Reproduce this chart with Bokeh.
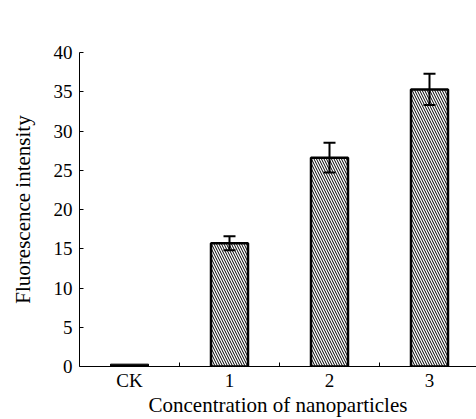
from bokeh.plotting import figure
from bokeh.models import ColumnDataSource, FixedTicker, Whisker, TeeHead
from bokeh.embed import file_html
from bokeh.resources import INLINE

categories = ["CK", "1", "2", "3"]
values = [0.3, 15.7, 26.6, 35.3]
errors = [0.0, 0.9, 1.9, 2.0]
y_ticks = [0, 5, 10, 15, 20, 25, 30, 35, 40]

xpos = [i + 0.5 for i in range(len(categories))]
upper = [v + e for v, e in zip(values, errors)]
lower = [v - e for v, e in zip(values, errors)]

p = figure(width=476, height=419, output_backend="svg", toolbar_location=None,
           x_range=(0, 3.97), y_range=(0, 40),
           min_border_left=79, min_border_right=0, min_border_top=52, min_border_bottom=53)
p.outline_line_color = None
p.xgrid.visible = False
p.ygrid.visible = False

# CK bar (solid black), others hatched
p.vbar(x=[xpos[0]], top=[values[0]], width=0.38, bottom=0, fill_color="black", line_color="black", line_width=1)
sub = ColumnDataSource(dict(x=xpos[1:], top=values[1:]))
p.vbar(x="x", top="top", width=0.37, bottom=0, source=sub, fill_color="white",
       line_color="black", line_width=2.5, hatch_pattern="\\", hatch_color="black",
       hatch_scale=5, hatch_weight=1)

err_src = ColumnDataSource(dict(x=xpos[1:], upper=upper[1:], lower=lower[1:]))
w = Whisker(base="x", upper="upper", lower="lower", source=err_src, dimension="height",
            line_width=2, line_color="black", level="overlay",
            upper_head=TeeHead(size=12, line_width=2, line_color="black"),
            lower_head=TeeHead(size=12, line_width=2, line_color="black"))
p.add_layout(w)

font = "Liberation Serif"
p.xaxis.ticker = FixedTicker(ticks=xpos, minor_ticks=[1, 2, 3])
p.xaxis.major_label_overrides = {x: c for x, c in zip(xpos, categories)}
p.xaxis.major_tick_in = 0
p.xaxis.major_tick_out = 0
p.xaxis.minor_tick_in = 4
p.xaxis.minor_tick_out = 0
p.xaxis.axis_label = "Concentration of nanoparticles"

p.yaxis.ticker = FixedTicker(ticks=y_ticks)
p.yaxis.major_tick_in = 4
p.yaxis.major_tick_out = 0
p.yaxis.minor_tick_in = 0
p.yaxis.minor_tick_out = 0
p.yaxis.axis_label = "Fluorescence intensity"

for ax in (p.xaxis[0], p.yaxis[0]):
    ax.axis_line_color = "black"
    ax.major_tick_line_color = "black"
    ax.minor_tick_line_color = "black"
    ax.major_label_text_font = font
    ax.major_label_text_font_size = "19px"
    ax.major_label_text_color = "black"
    ax.axis_label_text_font = font
    ax.axis_label_text_font_size = "21px"
    ax.axis_label_text_font_style = "normal"
    ax.axis_label_text_color = "black"

p.xaxis.major_label_standoff = 3
p.xaxis.axis_label_standoff = -1
p.yaxis.major_label_standoff = 7
p.yaxis.axis_label_standoff = 16

open("out.html", "w").write(file_html(p, INLINE))
